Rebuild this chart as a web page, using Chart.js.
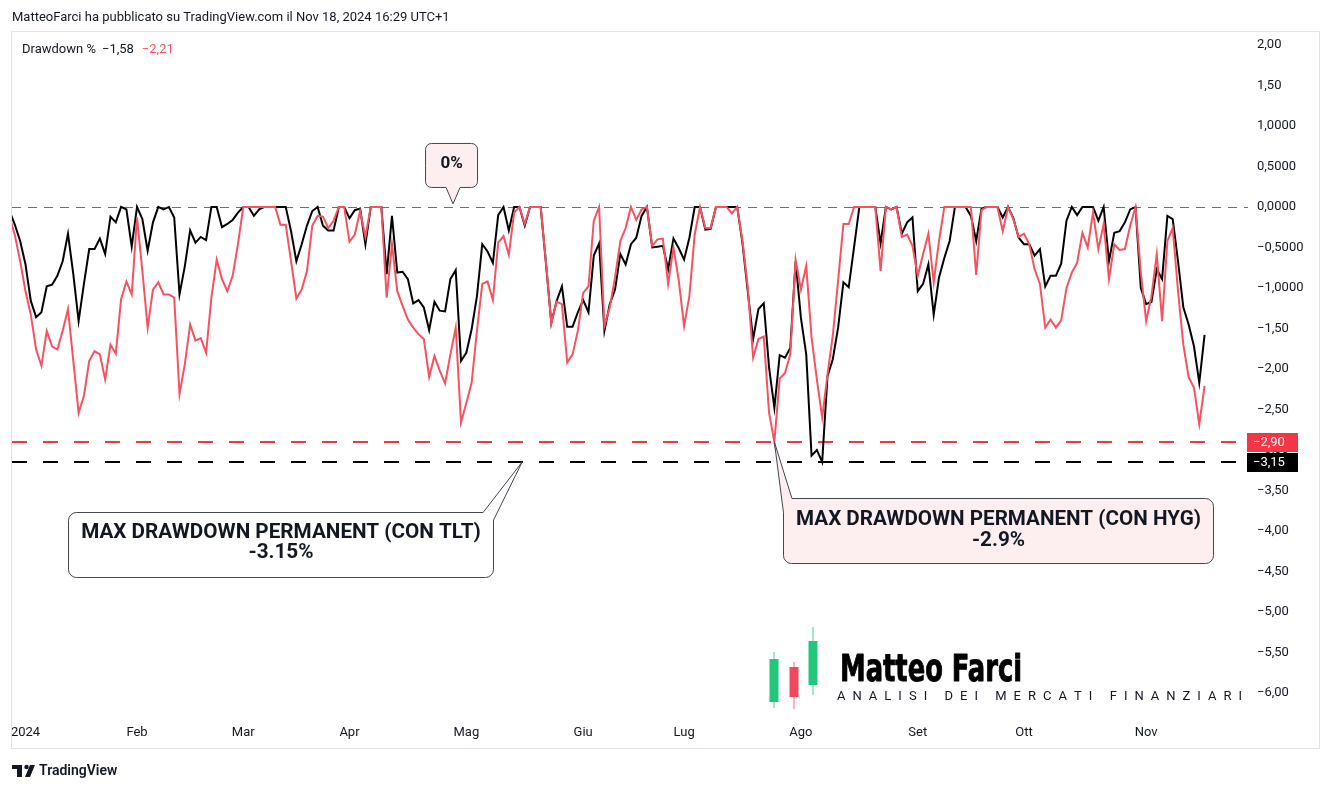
<!DOCTYPE html>
<html lang="it">
<head>
<meta charset="utf-8">
<title>Drawdown %</title>
<script src="https://cdn.jsdelivr.net/npm/chart.js@4.4.1/dist/chart.umd.min.js"></script>
<style>
html,body{margin:0;padding:0;background:#ffffff;overflow:hidden;}
canvas{display:block;}
</style>
</head>
<body>
<canvas id="chart" width="1332" height="791"></canvas>
<script>
// ---------- DATA ----------
const tradingDates = [
"2023-12-27","2023-12-28","2023-12-29",
"2024-01-02","2024-01-03","2024-01-04","2024-01-05","2024-01-08","2024-01-09","2024-01-10","2024-01-11","2024-01-12","2024-01-16","2024-01-17","2024-01-18","2024-01-19","2024-01-22","2024-01-23","2024-01-24","2024-01-25","2024-01-26","2024-01-29","2024-01-30","2024-01-31",
"2024-02-01","2024-02-02","2024-02-05","2024-02-06","2024-02-07","2024-02-08","2024-02-09","2024-02-12","2024-02-13","2024-02-14","2024-02-15","2024-02-16","2024-02-20","2024-02-21","2024-02-22","2024-02-23","2024-02-26","2024-02-27","2024-02-28","2024-02-29",
"2024-03-01","2024-03-04","2024-03-05","2024-03-06","2024-03-07","2024-03-08","2024-03-11","2024-03-12","2024-03-13","2024-03-14","2024-03-15","2024-03-18","2024-03-19","2024-03-20","2024-03-21","2024-03-22","2024-03-25","2024-03-26","2024-03-27","2024-03-28",
"2024-04-01","2024-04-02","2024-04-03","2024-04-04","2024-04-05","2024-04-08","2024-04-09","2024-04-10","2024-04-11","2024-04-12","2024-04-15","2024-04-16","2024-04-17","2024-04-18","2024-04-19","2024-04-22","2024-04-23","2024-04-24","2024-04-25","2024-04-26","2024-04-29","2024-04-30",
"2024-05-01","2024-05-02","2024-05-03","2024-05-06","2024-05-07","2024-05-08","2024-05-09","2024-05-10","2024-05-13","2024-05-14","2024-05-15","2024-05-16","2024-05-17","2024-05-20","2024-05-21","2024-05-22","2024-05-23","2024-05-24","2024-05-28","2024-05-29","2024-05-30","2024-05-31",
"2024-06-03","2024-06-04","2024-06-05","2024-06-06","2024-06-07","2024-06-10","2024-06-11","2024-06-12","2024-06-13","2024-06-14","2024-06-17","2024-06-18","2024-06-20","2024-06-21","2024-06-24","2024-06-25","2024-06-26","2024-06-27","2024-06-28",
"2024-07-01","2024-07-02","2024-07-03","2024-07-05","2024-07-08","2024-07-09","2024-07-10","2024-07-11","2024-07-12","2024-07-15","2024-07-16","2024-07-17","2024-07-18","2024-07-19","2024-07-22","2024-07-23","2024-07-24","2024-07-25","2024-07-26","2024-07-29","2024-07-30","2024-07-31",
"2024-08-01","2024-08-02","2024-08-05","2024-08-06","2024-08-07","2024-08-08","2024-08-09","2024-08-12","2024-08-13","2024-08-14","2024-08-15","2024-08-16","2024-08-19","2024-08-20","2024-08-21","2024-08-22","2024-08-23","2024-08-26","2024-08-27","2024-08-28","2024-08-29","2024-08-30",
"2024-09-03","2024-09-04","2024-09-05","2024-09-06","2024-09-09","2024-09-10","2024-09-11","2024-09-12","2024-09-13","2024-09-16","2024-09-17","2024-09-18","2024-09-19","2024-09-20","2024-09-23","2024-09-24","2024-09-25","2024-09-26","2024-09-27","2024-09-30",
"2024-10-01","2024-10-02","2024-10-03","2024-10-04","2024-10-07","2024-10-08","2024-10-09","2024-10-10","2024-10-11","2024-10-14","2024-10-15","2024-10-16","2024-10-17","2024-10-18","2024-10-21","2024-10-22","2024-10-23","2024-10-24","2024-10-25","2024-10-28","2024-10-29","2024-10-30","2024-10-31",
"2024-11-01","2024-11-04","2024-11-05","2024-11-06","2024-11-07","2024-11-08","2024-11-11","2024-11-12","2024-11-13","2024-11-14","2024-11-15","2024-11-18"
];

const monthTickLabels = ['2024','Feb','Mar','Apr','Mag','Giu','Lug','Ago','Set','Ott','Nov'];

// Drawdown % of the permanent portfolio with TLT (black line)
const drawdownTLT = [
-0.05,-0.22,-0.42,-0.71,-1.16,-1.36,-1.30,-0.98,-0.96,-0.85,
-0.67,-0.33,-0.83,-1.41,-0.95,-0.52,-0.52,-0.39,-0.58,-0.12,
-0.19,0,-0.03,-0.49,0,-0.15,-0.54,-0.19,0,-0.03,
0,-0.13,-1.08,-0.73,-0.29,-0.44,-0.37,-0.41,0,0,
-0.25,-0.21,-0.16,-0.07,0,0,-0.11,-0.03,0,0,
0,0,0,-0.30,-0.67,-0.46,-0.23,-0.05,0,-0.23,
-0.29,-0.29,0,0,-0.14,-0.04,-0.02,-0.46,0,0,
0,-0.83,-0.11,-0.81,-0.80,-0.89,-1.19,-1.15,-1.24,-1.52,
-1.17,-1.28,-1.29,-0.89,-0.78,-1.90,-1.80,-1.51,-1.10,-0.46,
-0.55,-0.69,-0.10,0,-0.29,0,0,-0.23,0,0,
0,-0.70,-1.43,-1.16,-0.98,-1.48,-1.48,-1.30,-1.15,-1.30,
-0.60,-0.45,-1.53,-1.20,-1.02,-0.58,-0.71,-0.46,-0.38,-0.11,
0,-0.50,-0.49,-0.48,-0.77,-0.39,-0.51,-0.65,-0.38,0,
0,-0.28,-0.27,0,0,0,0,0,-0.45,-1.05,
-1.63,-1.26,-1.19,-1.98,-2.48,-1.83,-1.86,-1.74,-0.67,-1.37,
-1.82,-3.07,-3.00,-3.15,-2.09,-1.88,-1.49,-0.93,-0.99,-0.50,
0,0,0,0,-0.45,0,-0.03,0,-0.33,-0.19,
-0.13,-1.04,-0.95,-0.71,-1.33,-0.87,-0.63,-0.42,0,0,
0,-0.11,-0.42,-0.02,0,0,0,-0.13,0,-0.14,
-0.38,-0.46,-0.46,-0.60,-0.52,-0.98,-0.85,-0.85,-0.70,-0.17,
0,-0.10,0,0,0,-0.17,0,-0.67,-0.32,-0.30,
-0.19,-0.03,0,-1.00,-1.20,-1.17,-0.77,-0.89,-0.11,-0.15,
-0.67,-1.24,-1.45,-1.72,-2.17,-1.58
];

// Drawdown % of the permanent portfolio with HYG (red line)
const drawdownHYG = [
-0.12,-0.35,-0.67,-1.04,-1.33,-1.76,-1.96,-1.53,-1.72,-1.76,
-1.53,-1.26,-1.90,-2.54,-2.33,-1.90,-1.78,-1.82,-2.13,-1.70,
-1.81,-1.14,-0.92,-1.08,-0.13,-0.79,-1.49,-1.02,-0.93,-1.08,
-1.08,-1.12,-2.31,-1.94,-1.45,-1.65,-1.62,-1.80,-1.12,-0.65,
-0.89,-1.04,-0.85,-0.46,0,0,0,0,0,0,
0,-0.22,-0.22,-0.67,-1.13,-1.02,-0.79,-0.23,-0.11,-0.12,
-0.26,-0.17,0,0,-0.43,-0.34,-0.05,-0.37,0,0,
0,-1.12,-0.46,-1.04,-1.22,-1.39,-1.49,-1.57,-1.63,-2.10,
-1.84,-2.02,-2.18,-1.82,-1.49,-2.66,-2.42,-2.17,-1.53,-0.95,
-0.92,-1.15,-0.44,-0.36,-0.59,-0.07,0,-0.21,0,0,
0,-0.68,-1.44,-1.17,-1.20,-1.92,-1.82,-1.53,-1.06,-0.98,
-0.17,0,-1.47,-1.24,-0.87,-0.42,-0.26,0,-0.16,-0.03,
0,-0.48,-0.40,-0.39,-0.95,-0.50,-0.91,-1.47,-1.10,-0.34,
0,-0.26,-0.26,0,0,0,-0.08,0,-0.42,-1.00,
-1.86,-1.63,-1.60,-2.54,-2.90,-2.12,-2.05,-1.82,-0.65,-1.02,
-0.73,-1.61,-2.13,-2.60,-2.07,-1.59,-0.91,-0.21,-0.21,0,
0,0,0,0,-0.79,0,-0.03,0,-0.37,-0.34,
-0.48,-0.85,-0.58,-0.33,-0.93,-0.42,0,0,0,0,
0,0,-0.84,-0.04,0,0,0,-0.30,0,-0.15,
-0.37,-0.33,-0.46,-0.77,-0.95,-1.49,-1.39,-1.49,-1.40,-1.00,
-0.81,-0.69,-0.32,-0.50,-0.07,-0.52,-0.21,-0.89,-0.46,-0.53,
-0.52,-0.23,0,-0.81,-1.41,-1.10,-0.58,-1.41,-0.42,-0.26,
-1.04,-1.70,-2.10,-2.23,-2.68,-2.21
];

const yTickValues = [2,1.5,1,0.5,0,-0.5,-1,-1.5,-2,-2.5,-3,-3.5,-4,-4.5,-5,-5.5,-6];
const yTickLabels = ['2,00','1,50','1,0000','0,5000','0,0000','\u22120,5000','\u22121,0000','\u22121,50','\u22122,00','\u22122,50','\u22123,00','\u22123,50','\u22124,00','\u22124,50','\u22125,00','\u22125,50','\u22126,00'];

const zeroLevel = 0;
const maxDrawdownHYG = -2.90;
const maxDrawdownTLT = -3.15;
const levelLabels = ['\u22122,90','\u22123,15'];
const lastValueLabels = ['\u22121,58','\u22122,21'];
const legendTitle = 'Drawdown %';
const headerText = 'MatteoFarci ha pubblicato su TradingView.com il Nov 18, 2024 16:29 UTC+1';
const calloutZeroText = ['0%'];
const calloutTLTText = ['MAX DRAWDOWN PERMANENT (CON TLT)','-3.15%'];
const calloutHYGText = ['MAX DRAWDOWN PERMANENT (CON HYG)','-2.9%'];
const logoTitle = 'Matteo Farci';
const logoSubtitle = 'ANALISI DEI MERCATI FINANZIARI';

// ---------- derived ----------
const monthStartIdx = [];
tradingDates.forEach((d, i) => {
  if (i > 0 && d.slice(0, 7) !== tradingDates[i - 1].slice(0, 7)) monthStartIdx.push(i);
});
const toPoints = arr => arr.map((v, i) => ({ x: i, y: v }));

// ---------- helpers ----------
function roundPoly(ctx, pts) {
  const n = pts.length, last = pts[n - 1], first = pts[0];
  ctx.beginPath();
  ctx.moveTo((last[0] + first[0]) / 2, (last[1] + first[1]) / 2);
  for (let i = 0; i < n; i++) {
    const p = pts[i], q = pts[(i + 1) % n];
    if (p[2] > 0) ctx.arcTo(p[0], p[1], q[0], q[1], p[2]); else ctx.lineTo(p[0], p[1]);
  }
  ctx.closePath();
}
function fitBold(ctx, text, target, family) {
  ctx.font = 'bold 20px ' + family;
  const w = ctx.measureText(text).width;
  return 20 * target / w;
}

const UI = 'Roboto, "Liberation Sans", sans-serif';

const deco = {
  id: 'deco',
  beforeDraw(chart) {
    const c = chart.ctx;
    c.save(); c.fillStyle = '#ffffff'; c.fillRect(0, 0, chart.width, chart.height); c.restore();
  },
  beforeDatasetsDraw(chart) {
    const { ctx, chartArea: a, scales: { y } } = chart;
    const lines = [
      { v: zeroLevel, color: '#f23645', h: 1, dash: 9, gap: 7 },
      { v: maxDrawdownHYG, color: '#f23645', h: 2, dash: 15, gap: 16 },
      { v: maxDrawdownTLT, color: '#000000', h: 2, dash: 15, gap: 16 }
    ];
    ctx.save();
    lines.forEach(l => {
      const py = Math.round(y.getPixelForValue(l.v));
      const top = l.h === 1 ? py : py - 1;
      ctx.fillStyle = l.color;
      for (let px = a.left + 1; px < a.right + 2; px += l.dash + l.gap) {
        ctx.fillRect(px, top, Math.min(l.dash, a.right + 2 - px), l.h);
      }
    });
    ctx.restore();
  },
  afterDraw(chart) {
    const { ctx, chartArea: a, scales: { x, y } } = chart;
    ctx.save();
    // frame
    ctx.strokeStyle = '#e0e3eb'; ctx.lineWidth = 1;
    ctx.strokeRect(11.5, 31.5, 1308, 717);

    // header
    ctx.fillStyle = '#131722'; ctx.font = '13px ' + UI; ctx.textBaseline = 'middle'; ctx.textAlign = 'left';
    ctx.fillText(headerText, 12, 18);

    // legend
    ctx.font = '13px ' + UI;
    ctx.fillText(legendTitle, 22, 50);
    let lx = 22 + ctx.measureText(legendTitle).width + 6;
    ctx.fillStyle = '#131722';
    ctx.fillText(lastValueLabels[0], lx, 50);
    lx += ctx.measureText(lastValueLabels[0]).width + 8;
    ctx.fillStyle = '#f7525f';
    ctx.fillText(lastValueLabels[1], lx, 50);

    // price level boxes on the axis
    [[maxDrawdownHYG, '#f23645', levelLabels[0]], [maxDrawdownTLT, '#000000', levelLabels[1]]].forEach(b => {
      const py = y.getPixelForValue(b[0]);
      ctx.fillStyle = b[1];
      ctx.fillRect(a.right + 1, Math.round(py) - 9, 51, 19);
      ctx.fillStyle = '#ffffff'; ctx.font = '13px ' + UI; ctx.textAlign = 'left'; ctx.textBaseline = 'middle';
      ctx.fillText(b[2], a.right + 7, Math.round(py) + 0.5);
    });

    ctx.lineWidth = 1; ctx.strokeStyle = '#434651';
    // callout 0%
    {
      const ax = x.getPixelForValue(83.5), ay = y.getPixelForValue(zeroLevel);
      const L = ax - 27.5, R = ax + 24.5, T = ay - 63.5, B = ay - 19.5;
      roundPoly(ctx, [[L, T, 6], [R, T, 6], [R, B, 6], [ax + 7, B, 0], [ax, ay - 3, 0], [ax - 7, B, 0], [L, B, 6]]);
      ctx.fillStyle = '#fdeeef'; ctx.fill(); ctx.stroke();
      ctx.fillStyle = '#131722'; ctx.font = 'bold 17px ' + UI; ctx.textAlign = 'center'; ctx.textBaseline = 'middle';
      ctx.fillText(calloutZeroText[0], (L + R) / 2, (T + B) / 2 - 2);
    }
    // callout TLT
    {
      const ax = x.getPixelForValue(96.5), ay = y.getPixelForValue(maxDrawdownTLT);
      const L = Math.round(ax - 454) + 0.5, R = Math.round(ax - 29) + 0.5, T = Math.round(ay + 50) + 0.5, B = Math.round(ay + 115) + 0.5;
      roundPoly(ctx, [[L, T, 8], [ax - 39, T, 0], [ax, ay, 0], [R, ay + 58, 0], [R, B, 8], [L, B, 8]]);
      ctx.fillStyle = '#ffffff'; ctx.fill(); ctx.stroke();
      const fs = fitBold(ctx, calloutTLTText[0], 400, UI);
      ctx.fillStyle = '#131722'; ctx.font = 'bold ' + fs.toFixed(2) + 'px ' + UI; ctx.textAlign = 'center'; ctx.textBaseline = 'middle';
      const cx = (L + R) / 2;
      ctx.fillText(calloutTLTText[0], cx, ay + 71);
      ctx.fillText(calloutTLTText[1], cx, ay + 91);
    }
    // callout HYG
    {
      const ax = x.getPixelForValue(144), ay = y.getPixelForValue(maxDrawdownHYG);
      const L = Math.round(ax + 8.6) + 0.5, R = Math.round(ax + 438.6) + 0.5, T = Math.round(ay + 56) + 0.5, B = Math.round(ay + 121) + 0.5;
      roundPoly(ctx, [[ax + 17.6, T, 0], [R, T, 8], [R, B, 8], [L, B, 8], [L, ay + 71, 0], [ax, ay, 0]]);
      ctx.fillStyle = '#fdeff0'; ctx.fill(); ctx.stroke();
      const fs = fitBold(ctx, calloutHYGText[0], 405, UI);
      ctx.fillStyle = '#131722'; ctx.font = 'bold ' + fs.toFixed(2) + 'px ' + UI; ctx.textAlign = 'center'; ctx.textBaseline = 'middle';
      const cx = (L + R) / 2;
      ctx.fillText(calloutHYGText[0], cx, ay + 78);
      ctx.fillText(calloutHYGText[1], cx, ay + 99);
    }

    // watermark logo (decoration)
    const candles = [
      [774, 652, 708, 659, 702, '#22c77a'],
      [794, 662, 709, 667, 697, '#f2485f'],
      [813, 627, 695, 641, 685, '#22c77a']
    ];
    candles.forEach(c => {
      ctx.globalAlpha = 0.55; ctx.fillStyle = c[5];
      ctx.fillRect(c[0] - 0.75, c[1], 1.5, c[2] - c[1]);
      ctx.globalAlpha = 1;
      ctx.fillRect(c[0] - 4.5, c[3], 9, c[4] - c[3]);
    });
    ctx.fillStyle = '#000000'; ctx.strokeStyle = '#000000';
    ctx.font = 'bold 38px "Liberation Sans Narrow", "DejaVu Sans Condensed", "Liberation Sans", sans-serif';
    ctx.textAlign = 'left'; ctx.textBaseline = 'alphabetic';
    const tw = ctx.measureText(logoTitle).width;
    ctx.save();
    ctx.translate(840, 681);
    ctx.scale(182 / tw, 1);
    ctx.lineWidth = 0.9; ctx.lineJoin = 'round';
    ctx.fillText(logoTitle, 0, 0);
    ctx.strokeText(logoTitle, 0, 0);
    ctx.restore();
    ctx.font = '13px ' + UI; ctx.fillStyle = '#131722';
    const chars = logoSubtitle.split('');
    const wsum = chars.reduce((s, ch) => s + ctx.measureText(ch).width, 0);
    const sp = (405 - wsum) / (chars.length - 1);
    let px = 837;
    chars.forEach(ch => { ctx.fillText(ch, px, 700); px += ctx.measureText(ch).width + sp; });

    // TradingView footer
    ctx.fillStyle = '#131722';
    ctx.fillRect(12, 765, 10, 4);
    ctx.fillRect(17, 765, 5, 12);
    ctx.beginPath(); ctx.arc(26.5, 767, 2.2, 0, Math.PI * 2); ctx.fill();
    ctx.beginPath(); ctx.moveTo(30, 765); ctx.lineTo(35, 765); ctx.lineTo(30, 777); ctx.lineTo(25, 777); ctx.closePath(); ctx.fill();
    ctx.font = '600 14px ' + UI; ctx.textBaseline = 'middle';
    ctx.fillText('TradingView', 39, 771);
    ctx.restore();
  }
};

new Chart(document.getElementById('chart'), {
  type: 'line',
  data: {
    datasets: [
      { label: 'Drawdown % (HYG)', data: toPoints(drawdownHYG), borderColor: '#f7525f', borderWidth: 2, pointRadius: 0, tension: 0, order: 0 },
      { label: 'Drawdown % (TLT)', data: toPoints(drawdownTLT), borderColor: '#000000', borderWidth: 2, pointRadius: 0, tension: 0, order: 1 }
    ]
  },
  options: {
    responsive: false, animation: false, devicePixelRatio: 1,
    layout: { padding: { left: 11, top: 32, right: 0, bottom: 0 } },
    plugins: { legend: { display: false }, tooltip: { enabled: false } },
    scales: {
      x: {
        type: 'linear', bounds: 'data', min: 0.27, max: 232.8,
        grid: { display: false, drawTicks: false }, border: { display: false },
        afterBuildTicks: s => { s.ticks = monthStartIdx.map(v => ({ value: v })); },
        ticks: { autoSkip: false, maxRotation: 0, padding: 7, color: '#131722', font: { family: UI, size: 13 },
          callback: (v, i) => monthTickLabels[i] },
        afterFit: s => { s.height = 73; }
      },
      y: {
        position: 'right', bounds: 'data', min: -6.309, max: 2.16,
        grid: { display: false, drawTicks: false }, border: { display: false },
        afterBuildTicks: s => { s.ticks = yTickValues.map(v => ({ value: v })); },
        ticks: { autoSkip: false, padding: 11, color: '#131722', font: { family: UI, size: 13 },
          callback: (v, i) => yTickLabels[i] },
        afterFit: s => { s.width = 86; }
      }
    }
  },
  plugins: [deco]
});
</script>
</body>
</html>
